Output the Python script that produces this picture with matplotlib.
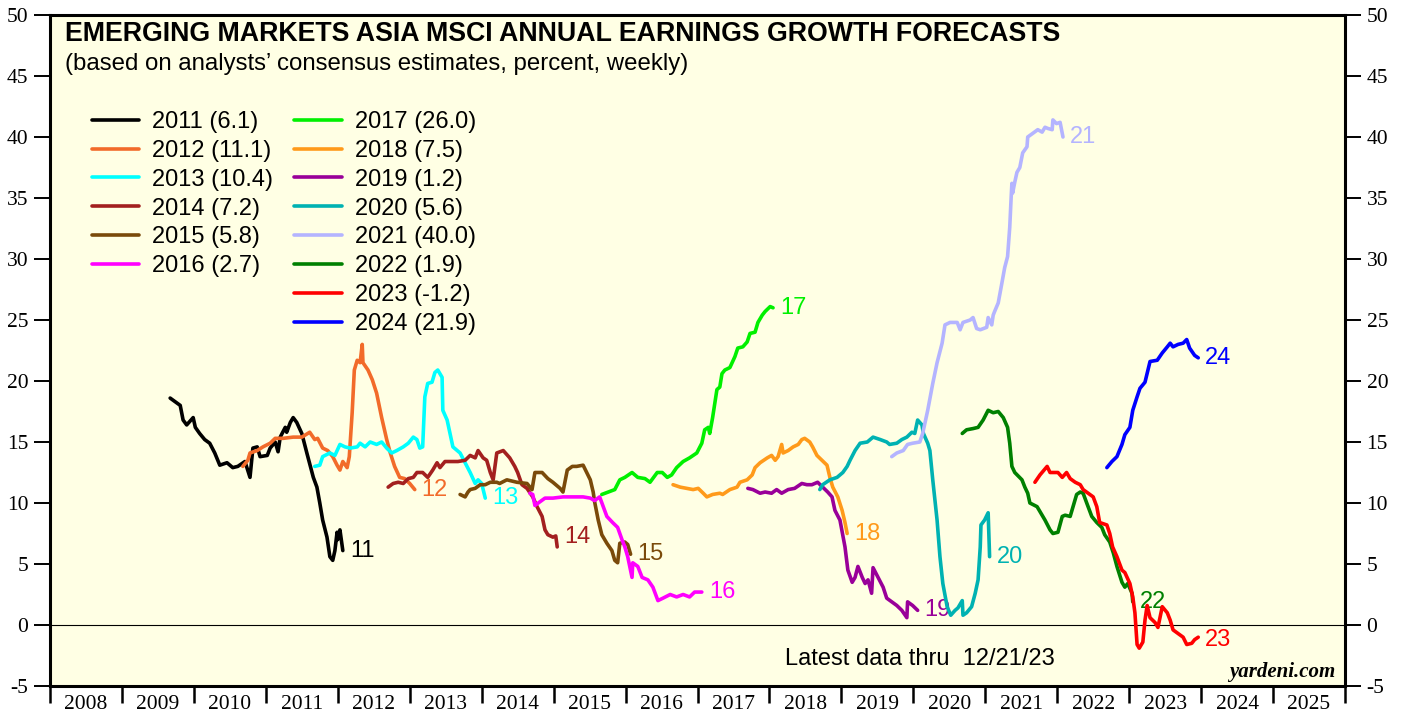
import matplotlib
matplotlib.use('Agg')
import matplotlib.pyplot as plt
from matplotlib.lines import Line2D
from matplotlib.ticker import MultipleLocator, FixedLocator, NullFormatter, FixedFormatter

# tick labels are serif, everything else sans
plt.rcParams['font.family'] = ['Liberation Serif', 'DejaVu Serif']
plt.rcParams['axes.unicode_minus'] = False
SANS = ['Liberation Sans', 'DejaVu Sans']

# ---- data (decimal year, percent) ----
x11 = [2009.67, 2009.74, 2009.81, 2009.85, 2009.90, 2009.99, 2010.02, 2010.08, 2010.15, 2010.22, 2010.29,
       2010.36, 2010.46, 2010.54, 2010.61, 2010.71, 2010.78, 2010.82, 2010.88, 2010.92, 2011.02, 2011.06,
       2011.13, 2011.17, 2011.20, 2011.27, 2011.29, 2011.34, 2011.38, 2011.43, 2011.50, 2011.57, 2011.66,
       2011.71, 2011.75, 2011.79, 2011.85, 2011.89, 2011.93, 2011.96, 2011.99, 2012.00, 2012.03, 2012.07]
y11 = [18.6, 18.3, 18.0, 16.8, 16.4, 17.0, 16.2, 15.7, 15.2, 14.9, 14.1, 13.1, 13.3, 12.9, 13.0, 13.4, 12.1,
       14.5, 14.6, 13.8, 13.9, 14.5, 15.0, 14.2, 15.4, 16.2, 15.8, 16.6, 17.0, 16.6, 15.7, 14.1, 12.1, 11.3,
       10.0, 8.6, 7.2, 5.6, 5.3, 6.1, 7.6, 7.0, 7.8, 6.1]

x12 = [2010.68, 2010.75, 2010.78, 2010.88, 2010.96, 2011.06, 2011.13, 2011.24, 2011.38, 2011.50, 2011.61,
       2011.68, 2011.72, 2011.79, 2011.86, 2011.93, 2011.99, 2012.03, 2012.07, 2012.13, 2012.16, 2012.20,
       2012.23, 2012.27, 2012.31, 2012.34, 2012.35, 2012.42, 2012.48, 2012.54, 2012.61, 2012.68, 2012.73,
       2012.79, 2012.86, 2012.93, 2013.00, 2013.07]
y12 = [13.0, 13.5, 14.1, 14.3, 14.6, 14.9, 15.3, 15.3, 15.4, 15.4, 15.8, 15.2, 15.3, 14.5, 14.3, 13.8, 13.1,
       12.7, 13.4, 12.9, 13.8, 17.4, 20.9, 21.7, 21.5, 23.0, 21.5, 20.9, 20.1, 19.0, 17.0, 15.2, 14.1, 13.0,
       12.1, 12.0, 11.6, 11.1]

x13 = [2011.68, 2011.75, 2011.79, 2011.89, 2011.96, 2012.03, 2012.10, 2012.17, 2012.27, 2012.31, 2012.38,
       2012.45, 2012.54, 2012.61, 2012.68, 2012.75, 2012.82, 2012.91, 2012.98, 2013.05, 2013.10, 2013.14,
       2013.18, 2013.21, 2013.25, 2013.31, 2013.35, 2013.39, 2013.45, 2013.46, 2013.52, 2013.56, 2013.60,
       2013.70, 2013.77, 2013.84, 2013.91, 2013.95, 2014.00, 2014.05]
y13 = [13.0, 13.1, 13.8, 14.1, 13.9, 14.8, 14.6, 14.5, 14.6, 14.9, 14.6, 15.0, 14.8, 15.0, 14.5, 14.1, 14.3,
       14.6, 14.9, 15.4, 15.2, 14.5, 14.6, 18.7, 19.8, 19.9, 20.7, 20.9, 20.3, 17.6, 16.8, 15.7, 14.6, 14.1,
       13.3, 12.5, 11.6, 11.9, 11.6, 10.4]

x14 = [2012.70, 2012.77, 2012.84, 2012.91, 2012.98, 2013.05, 2013.10, 2013.18, 2013.25, 2013.32, 2013.38,
       2013.42, 2013.49, 2013.59, 2013.67, 2013.77, 2013.84, 2013.91, 2013.95, 2014.02, 2014.07, 2014.12,
       2014.16, 2014.21, 2014.30, 2014.39, 2014.46, 2014.50, 2014.56, 2014.63, 2014.71, 2014.77, 2014.84,
       2014.88, 2014.92, 2014.99, 2015.03, 2015.05]
y14 = [11.3, 11.6, 11.7, 11.6, 12.0, 12.1, 12.5, 12.5, 12.1, 12.7, 13.3, 12.9, 13.4, 13.4, 13.4, 13.5, 13.9,
       13.7, 14.3, 13.7, 13.5, 12.5, 11.9, 14.1, 14.3, 13.7, 13.0, 12.5, 11.5, 11.2, 10.5, 9.7, 8.9, 7.8, 7.4,
       7.2, 7.3, 6.4]

x15 = [2013.70, 2013.77, 2013.81, 2013.84, 2013.91, 2013.98, 2014.05, 2014.12, 2014.21, 2014.25, 2014.35,
       2014.49, 2014.63, 2014.70, 2014.74, 2014.84, 2014.92, 2014.99, 2015.09, 2015.13, 2015.19, 2015.26,
       2015.32, 2015.41, 2015.46, 2015.51, 2015.55, 2015.57, 2015.62, 2015.67, 2015.74, 2015.81, 2015.85,
       2015.89, 2015.92, 2015.99, 2016.03, 2016.07]
y15 = [10.7, 10.5, 10.9, 11.1, 11.2, 11.5, 11.5, 11.7, 11.7, 11.6, 11.9, 11.7, 11.6, 11.1, 12.5, 12.5, 12.0,
       11.7, 11.2, 10.9, 12.7, 13.0, 13.0, 13.1, 12.5, 11.9, 10.9, 10.1, 8.6, 7.4, 6.7, 6.1, 5.3, 5.1, 6.7,
       6.8, 6.6, 5.8]

x16 = [2014.67, 2014.71, 2014.74, 2014.81, 2014.88, 2014.99, 2015.13, 2015.27, 2015.41, 2015.51, 2015.57,
       2015.64, 2015.69, 2015.74, 2015.82, 2015.89, 2015.95, 2015.99, 2016.03, 2016.09, 2016.10, 2016.17,
       2016.23, 2016.31, 2016.38, 2016.45, 2016.52, 2016.62, 2016.71, 2016.80, 2016.89, 2016.96, 2017.06]
y16 = [10.8, 10.7, 9.8, 10.1, 10.4, 10.4, 10.5, 10.5, 10.5, 10.4, 10.2, 10.5, 9.7, 8.9, 8.4, 8.0, 7.0, 6.4,
       5.6, 3.9, 5.1, 4.8, 3.9, 3.7, 3.1, 2.0, 2.2, 2.5, 2.3, 2.5, 2.3, 2.7, 2.7]

x17 = [2015.67, 2015.76, 2015.85, 2015.92, 2015.99, 2016.09, 2016.17, 2016.27, 2016.34, 2016.44, 2016.51,
       2016.58, 2016.64, 2016.71, 2016.80, 2016.89, 2016.99, 2017.06, 2017.10, 2017.15, 2017.17, 2017.21,
       2017.27, 2017.31, 2017.34, 2017.38, 2017.45, 2017.52, 2017.56, 2017.63, 2017.69, 2017.73, 2017.80,
       2017.84, 2017.90, 2017.94, 2018.01, 2018.05]
y17 = [10.7, 10.9, 11.1, 11.9, 12.1, 12.5, 12.1, 12.0, 11.7, 12.5, 12.5, 12.1, 12.3, 12.9, 13.4, 13.7, 14.1,
       14.9, 16.0, 16.2, 15.7, 17.0, 19.3, 19.5, 20.6, 20.9, 21.1, 22.0, 22.7, 22.8, 23.2, 23.9, 24.0, 24.8,
       25.4, 25.7, 26.1, 26.0]

x18 = [2016.66, 2016.76, 2016.85, 2016.94, 2017.01, 2017.08, 2017.13, 2017.21, 2017.31, 2017.35, 2017.45,
       2017.55, 2017.59, 2017.69, 2017.76, 2017.80, 2017.87, 2017.97, 2018.03, 2018.08, 2018.12, 2018.17,
       2018.19, 2018.26, 2018.33, 2018.40, 2018.45, 2018.49, 2018.56, 2018.60, 2018.66, 2018.73, 2018.80,
       2018.84, 2018.88, 2018.95, 2019.01, 2019.05, 2019.08]
y18 = [11.5, 11.3, 11.2, 11.1, 11.2, 10.8, 10.5, 10.7, 10.8, 10.7, 11.1, 11.3, 11.7, 11.9, 12.3, 12.9, 13.3,
       13.7, 13.9, 13.5, 13.8, 14.8, 14.1, 14.3, 14.6, 14.8, 15.2, 15.3, 15.0, 14.6, 13.9, 13.5, 13.1, 12.1,
       11.3, 10.5, 9.4, 8.4, 7.5]

x19 = [2017.70, 2017.77, 2017.87, 2017.94, 2018.03, 2018.10, 2018.17, 2018.26, 2018.35, 2018.45, 2018.52,
       2018.59, 2018.67, 2018.74, 2018.81, 2018.87, 2018.91, 2018.98, 2019.05, 2019.09, 2019.15, 2019.19,
       2019.23, 2019.29, 2019.33, 2019.37, 2019.42, 2019.44, 2019.51, 2019.58, 2019.63, 2019.70, 2019.77,
       2019.84, 2019.91, 2019.92, 2019.99, 2020.06]
y19 = [11.2, 11.1, 10.8, 10.9, 10.8, 11.1, 10.8, 11.1, 11.2, 11.6, 11.5, 11.5, 11.7, 11.3, 10.9, 10.5, 9.4,
       8.6, 6.4, 4.5, 3.5, 3.9, 4.8, 3.9, 3.4, 3.7, 2.6, 4.7, 3.9, 3.1, 2.2, 1.9, 1.6, 1.2, 0.6, 1.9, 1.6, 1.2]

x20 = [2018.70, 2018.74, 2018.84, 2018.94, 2019.02, 2019.08, 2019.12, 2019.19, 2019.26, 2019.36, 2019.44,
       2019.54, 2019.63, 2019.67, 2019.77, 2019.84, 2019.91, 2019.98, 2020.02, 2020.06, 2020.12, 2020.14,
       2020.20, 2020.23, 2020.27, 2020.33, 2020.37, 2020.41, 2020.47, 2020.52, 2020.58, 2020.62, 2020.68,
       2020.69, 2020.74, 2020.81, 2020.86, 2020.90, 2020.93, 2020.94, 2020.99, 2021.04, 2021.06]
y20 = [11.1, 11.5, 11.9, 12.1, 12.5, 13.0, 13.5, 14.3, 14.9, 15.0, 15.4, 15.2, 15.0, 14.8, 14.9, 15.2, 15.4,
       15.8, 15.7, 16.8, 16.4, 15.7, 14.9, 14.3, 11.9, 8.6, 5.6, 3.4, 1.5, 0.8, 1.2, 1.4, 2.0, 0.8, 1.0, 1.5,
       2.6, 3.7, 6.4, 8.2, 8.6, 9.2, 5.6]

x21 = [2019.70, 2019.77, 2019.86, 2019.92, 2019.99, 2020.09, 2020.13, 2020.20, 2020.27, 2020.33, 2020.40,
       2020.44, 2020.51, 2020.61, 2020.65, 2020.69, 2020.79, 2020.83, 2020.88, 2020.93, 2021.02, 2021.04,
       2021.09, 2021.11, 2021.13, 2021.18, 2021.23, 2021.27, 2021.31, 2021.34, 2021.36, 2021.37, 2021.38,
       2021.41, 2021.44, 2021.48, 2021.52, 2021.58, 2021.59, 2021.66, 2021.73, 2021.79, 2021.83, 2021.87,
       2021.93, 2021.94, 2021.99, 2022.04, 2022.08]
y21 = [13.8, 14.1, 14.3, 14.8, 14.9, 15.0, 15.7, 17.6, 19.8, 21.5, 23.1, 24.6, 24.8, 24.8, 24.2, 24.8, 25.0,
       25.2, 24.3, 24.2, 24.4, 25.2, 24.6, 25.4, 25.7, 26.4, 28.0, 29.3, 30.2, 32.6, 35.1, 36.2, 35.4, 36.3,
       37.1, 37.5, 38.7, 39.2, 40.0, 40.3, 40.6, 40.4, 40.8, 40.7, 40.6, 41.4, 41.1, 41.2, 40.0]

x22 = [2020.68, 2020.74, 2020.83, 2020.90, 2020.97, 2021.04, 2021.11, 2021.18, 2021.25, 2021.31, 2021.34,
       2021.37, 2021.41, 2021.51, 2021.55, 2021.59, 2021.62, 2021.72, 2021.76, 2021.83, 2021.90, 2021.94,
       2022.01, 2022.07, 2022.11, 2022.18, 2022.22, 2022.27, 2022.32, 2022.36, 2022.41, 2022.48, 2022.55,
       2022.62, 2022.66, 2022.73, 2022.78, 2022.83, 2022.90, 2022.94, 2022.98, 2023.04, 2023.05]
y22 = [15.7, 16.0, 16.1, 16.2, 16.8, 17.6, 17.4, 17.5, 17.0, 16.2, 14.9, 13.0, 12.5, 11.9, 11.3, 10.8, 10.0,
       9.7, 9.3, 8.6, 7.8, 7.5, 7.6, 8.9, 9.0, 8.9, 9.7, 10.7, 10.9, 10.8, 10.0, 8.9, 8.4, 8.0, 7.4, 6.8, 5.9,
       4.8, 3.5, 3.1, 3.4, 2.6, 1.9]

x23 = [2021.69, 2021.76, 2021.86, 2021.90, 2021.97, 2022.01, 2022.07, 2022.13, 2022.18, 2022.25, 2022.32,
       2022.36, 2022.43, 2022.50, 2022.55, 2022.59, 2022.69, 2022.73, 2022.77, 2022.83, 2022.90, 2022.94,
       2023.01, 2023.05, 2023.08, 2023.11, 2023.14, 2023.19, 2023.22, 2023.25, 2023.29, 2023.36, 2023.40,
       2023.46, 2023.53, 2023.57, 2023.61, 2023.68, 2023.75, 2023.80, 2023.87, 2023.91, 2023.96]
y23 = [11.7, 12.3, 13.0, 12.5, 12.5, 12.5, 12.1, 12.5, 12.0, 11.7, 11.5, 11.1, 10.8, 10.5, 9.7, 8.4, 8.2,
       7.5, 6.4, 5.6, 4.5, 4.3, 3.4, 2.3, 1.0, -1.6, -1.9, -1.4, 0.4, 1.6, 0.6, 0.2, -0.2, 1.5, 1.0, 0.4,
       -0.4, -0.7, -1.0, -1.6, -1.5, -1.2, -1.0]

x24 = [2022.69, 2022.76, 2022.83, 2022.90, 2022.94, 2023.01, 2023.05, 2023.11, 2023.15, 2023.22, 2023.29,
       2023.39, 2023.46, 2023.53, 2023.57, 2023.61, 2023.68, 2023.75, 2023.80, 2023.84, 2023.91, 2023.96]
y24 = [12.9, 13.4, 13.8, 14.8, 15.6, 16.2, 17.6, 18.7, 19.4, 19.9, 21.6, 21.7, 22.3, 22.8, 23.1, 22.8, 23.0,
       23.1, 23.4, 22.7, 22.1, 21.9]

years = [2011, 2012, 2013, 2014, 2015, 2016, 2017, 2018, 2019, 2020, 2021, 2022, 2023, 2024]
latest = [6.1, 11.1, 10.4, 7.2, 5.8, 2.7, 26.0, 7.5, 1.2, 5.6, 40.0, 1.9, -1.2, 21.9]
colors = ['#000000', '#F26B2A', '#00FFFF', '#A3201F', '#7A4A0A', '#FF00FF', '#00F000',
          '#FF9A1A', '#990099', '#00B2B2', '#B4B4FF', '#008000', '#FF0000', '#0000FF']
series = [(x11, y11), (x12, y12), (x13, y13), (x14, y14), (x15, y15), (x16, y16), (x17, y17),
          (x18, y18), (x19, y19), (x20, y20), (x21, y21), (x22, y22), (x23, y23), (x24, y24)]
xlabels = [str(y) for y in range(2008, 2026)]

W, H = 1405, 715
fig = plt.figure(figsize=(W / 100, H / 100), dpi=100)
ax = fig.add_axes([50 / W, 29 / H, 1295 / W, 671 / H])
ax.set_facecolor('#FFFFE4')

handles = []
for (xs, ys), yr, v, c in zip(series, years, latest, colors):
    ln, = ax.plot(xs, ys, color=c, lw=2.6, solid_joinstyle='round', solid_capstyle='round', zorder=3)
    handles.append(ln)
    ax.annotate(str(yr)[2:], xy=(xs[-1], v), xytext=(5, 0), textcoords='offset points',
                va='center', ha='left', color=c, fontsize=17, family=SANS)

ax.axhline(0, color='black', lw=0.8, zorder=2)

ax.set_xlim(2008, 2026)
ax.set_ylim(-5, 50)
ax.yaxis.set_major_locator(MultipleLocator(5))
ax.tick_params(axis='y', left=True, right=True, labelleft=True, labelright=True,
               direction='out', length=11.5, width=1.4, labelsize=15.5, pad=4)

ax.xaxis.set_major_locator(FixedLocator(list(range(2008, 2027))))
ax.xaxis.set_major_formatter(NullFormatter())
ax.xaxis.set_minor_locator(FixedLocator([y + 0.5 for y in range(2008, 2026)]))
ax.xaxis.set_minor_formatter(FixedFormatter(xlabels))
ax.tick_params(axis='x', which='major', direction='out', length=12.5, width=1.8)
ax.tick_params(axis='x', which='minor', length=0, labelsize=15.5, pad=6.5)

for s in ax.spines.values():
    s.set_linewidth(2.2)

# legend: 6 entries in first column, 8 in second
blank = Line2D([], [], linestyle='none')
labels = [f'{yr} ({v:.1f})' for yr, v in zip(years, latest)]
leg_h = handles[:6] + [blank, blank] + handles[6:]
leg_l = labels[:6] + ['', ''] + labels[6:]
ax.legend(leg_h, leg_l, loc='upper left', bbox_to_anchor=((92 - 50) / 1295, (686 - 111) / 671),
          ncol=2, frameon=False, prop={'family': SANS, 'size': 17}, handlelength=2.0,
          handletextpad=0.55, labelspacing=0.29, columnspacing=0.9, borderaxespad=0, borderpad=0)

fig.text(65 / W, 1 - 34 / H, 'EMERGING MARKETS ASIA MSCI ANNUAL EARNINGS GROWTH FORECASTS',
         fontsize=19.3, fontweight='bold', family=SANS, va='center', ha='left')
fig.text(65 / W, 1 - 64 / H, '(based on analysts\u2019 consensus estimates, percent, weekly)',
         fontsize=17.3, family=SANS, va='center', ha='left')
fig.text(785 / W, 1 - 659 / H, 'Latest data thru  12/21/23', fontsize=17, family=SANS,
         va='center', ha='left')
fig.text(1335 / W, 1 - 672 / H, 'yardeni.com', fontsize=15, fontweight='bold', fontstyle='italic',
         va='center', ha='right')

fig.savefig('out.png', dpi=100)
